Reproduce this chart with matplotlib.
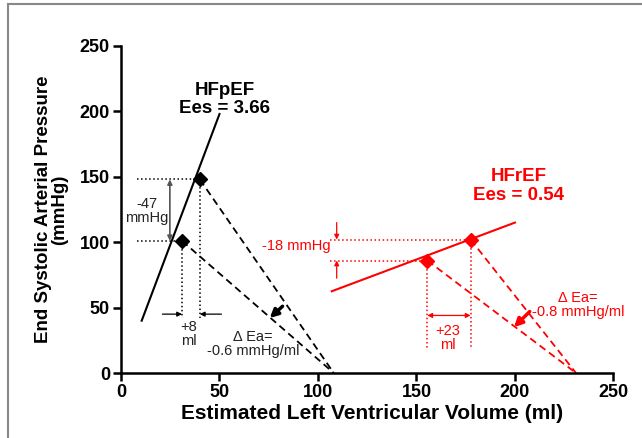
import matplotlib.pyplot as plt
from matplotlib.lines import Line2D

plt.rcParams["font.family"] = ["Liberation Sans", "DejaVu Sans"]

RED = "#ff0000"

# HFpEF: end-systolic points (volume ml, pressure mmHg)
pef_vol = [40, 31]
pef_pres = [148, 101]
pef_espvr_vol = [10.5, 50]
pef_espvr_pres = [40, 198]
pef_ea_v0 = 108

# HFrEF
ref_vol = [177.5, 155.5]
ref_pres = [102, 86]
ref_espvr_vol = [107, 200]
ref_espvr_pres = [62.5, 115]
ref_ea_v0 = 231

xticks = [0, 50, 100, 150, 200, 250]
yticks = [0, 50, 100, 150, 200, 250]

fig = plt.figure(figsize=(6.42, 4.38), dpi=100)
ax = fig.add_axes([0.1885, 0.1484, 0.767, 0.7466])

# frame of the original image
fig.add_artist(Line2D([0.012, 0.012], [0, 0.99], color="#888888", lw=1.5))
fig.add_artist(Line2D([0.012, 1.0], [0.99, 0.99], color="#888888", lw=1.5))

# ESPVR lines
ax.plot(pef_espvr_vol, pef_espvr_pres, color="black", lw=1.5)
ax.plot(ref_espvr_vol, ref_espvr_pres, color=RED, lw=1.5)

# Ea lines
for v, p in zip(pef_vol, pef_pres):
    ax.plot([v, pef_ea_v0], [p, 0], color="black", lw=1.3, ls=(0, (4, 2.5)))
for v, p in zip(ref_vol, ref_pres):
    ax.plot([v, ref_ea_v0], [p, 0], color=RED, lw=1.3, ls=(0, (4, 2.5)))

# dotted guides
for v, p in zip(pef_vol, pef_pres):
    ax.plot([8, v], [p, p], color="black", lw=1.1, ls=":")
    ax.plot([v, v], [p, 42], color="black", lw=1.1, ls=":")
for v, p in zip(ref_vol, ref_pres):
    ax.plot([106, v], [p, p], color=RED, lw=1.1, ls=":")
    ax.plot([v, v], [p, 19], color=RED, lw=1.1, ls=":")

# points
ax.plot(pef_vol, pef_pres, "D", color="black", ms=7, zorder=5)
ax.plot(ref_vol, ref_pres, "D", color=RED, ms=7, zorder=5)

# HFpEF annotations
ax.annotate("", xy=(24.8, pef_pres[1]), xytext=(24.8, pef_pres[0]),
            arrowprops=dict(arrowstyle="<|-|>", color="#555555", lw=1.2,
                            mutation_scale=7, shrinkA=0, shrinkB=0))
ax.text(13, 124, "-47\nmmHg", ha="center", va="center", fontsize=10.5,
        linespacing=1.0, color="#222222")
ax.annotate("", xy=(pef_vol[1], 45), xytext=(21, 45),
            arrowprops=dict(arrowstyle="-|>", color="black", lw=0.9,
                            mutation_scale=7, shrinkA=0, shrinkB=0))
ax.annotate("", xy=(pef_vol[0], 45), xytext=(51, 45),
            arrowprops=dict(arrowstyle="-|>", color="black", lw=0.9,
                            mutation_scale=7, shrinkA=0, shrinkB=0))
ax.text(34.5, 30, "+8\nml", ha="center", va="center", fontsize=10.5,
        linespacing=1.0, color="#222222")
ax.text(67, 22, "\u0394 Ea=\n-0.6 mmHg/ml", ha="center", va="center",
        fontsize=10.5, linespacing=1.0, color="#222222")
ax.annotate("", xy=(75.5, 42), xytext=(82, 51),
            arrowprops=dict(arrowstyle="-|>", color="black", lw=2.5,
                            mutation_scale=12, shrinkA=0, shrinkB=0))
ax.text(52.5, 209, "HFpEF\nEes = 3.66", ha="center", va="center",
        fontsize=13.5, fontweight="bold", linespacing=1.1)

# HFrEF annotations
ax.annotate("", xy=(109.5, ref_pres[0]), xytext=(109.5, 115),
            arrowprops=dict(arrowstyle="-|>", color=RED, lw=0.9,
                            mutation_scale=7, shrinkA=0, shrinkB=0))
ax.annotate("", xy=(109.5, ref_pres[1]), xytext=(109.5, 72.5),
            arrowprops=dict(arrowstyle="-|>", color=RED, lw=0.9,
                            mutation_scale=7, shrinkA=0, shrinkB=0))
ax.text(89, 97, "-18 mmHg", ha="center", va="center", fontsize=10.5, color=RED)
ax.annotate("", xy=(ref_vol[1], 44), xytext=(ref_vol[0], 44),
            arrowprops=dict(arrowstyle="<|-|>", color=RED, lw=0.9,
                            mutation_scale=7, shrinkA=0, shrinkB=0))
ax.text(166, 27, "+23\nml", ha="center", va="center", fontsize=10.5,
        linespacing=1.0, color=RED)
ax.text(232, 52, "\u0394 Ea=\n-0.8 mmHg/ml", ha="center", va="center",
        fontsize=10.5, linespacing=1.0, color=RED)
ax.annotate("", xy=(199.5, 35), xytext=(207.5, 47),
            arrowprops=dict(arrowstyle="-|>", color=RED, lw=2.5,
                            mutation_scale=12, shrinkA=0, shrinkB=0))
ax.text(202, 143, "HFrEF\nEes = 0.54", ha="center", va="center",
        fontsize=13.5, fontweight="bold", color=RED, linespacing=1.1)

# axes styling
ax.set_xlim(0, 250)
ax.set_ylim(0, 250)
ax.set_xticks(xticks)
ax.set_yticks(yticks)
for lbl in ax.get_xticklabels() + ax.get_yticklabels():
    lbl.set_fontweight("bold")
ax.tick_params(direction="out", length=6, width=1.8, labelsize=13, pad=2)
for s in ["top", "right"]:
    ax.spines[s].set_visible(False)
for s in ["left", "bottom"]:
    ax.spines[s].set_linewidth(1.8)
ax.set_clip_on(False)
ax.set_xlabel("Estimated Left Ventricular Volume (ml)", fontsize=15,
              fontweight="bold", labelpad=2)
ax.xaxis.label.set_x(0.51)
ax.set_ylabel("End Systolic Arterial Pressure\n(mmHg)", fontsize=13.5,
              fontweight="bold", labelpad=8, linespacing=1.0)

fig.savefig("out.png", dpi=100)
